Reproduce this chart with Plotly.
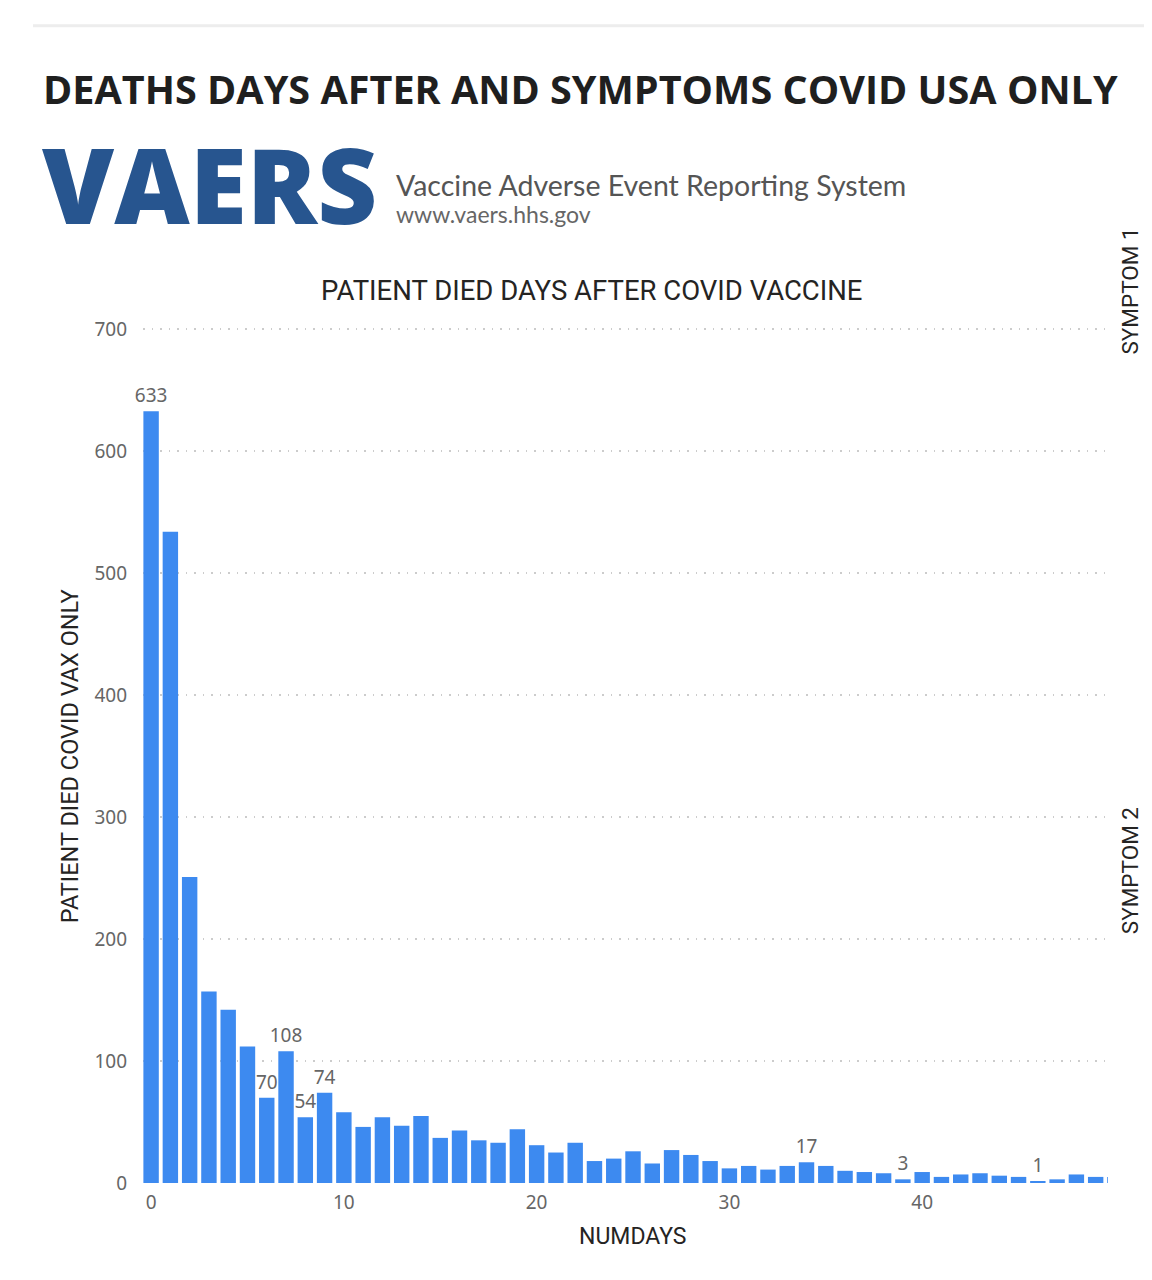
import plotly.graph_objects as go

# ---- data ----
days = list(range(0, 51))
deaths = [633, 534, 251, 157, 142, 112, 70, 108, 54, 74,
          58, 46, 54, 47, 55, 37, 43, 35, 33, 44,
          31, 25, 33, 18, 20, 26, 16, 27, 23, 18,
          12, 14, 11, 14, 17, 14, 10, 9, 8, 3,
          9, 5, 7, 8, 6, 5, 1, 3, 7, 5,
          5]
labelled_days = [0, 6, 7, 8, 9, 34, 39, 46]
y_ticks = [0, 100, 200, 300, 400, 500, 600, 700]
x_ticks = [0, 10, 20, 30, 40]

bar_text = [str(v) if d in labelled_days else "" for d, v in zip(days, deaths)]

OFF = 8  # page body margin
W, H = 1152 - OFF, 1280 - OFF
# plot area in target-page px
L, R, T, B = 143, 1108, 326.5, 1183
YMAX = 702


def px(x):
    return (x - L) / (R - L)


def py(y):
    return (B - y) / (B - T)


fig = go.Figure()
fig.add_trace(go.Bar(
    x=days, y=deaths,
    marker=dict(color="#3D8AF0", line=dict(width=0)),
    text=bar_text, textposition="outside", constraintext="none",
    textfont=dict(family="Noto Sans", size=19, color="#666666"),
    cliponaxis=False, hoverinfo="x+y",
))

fig.update_layout(
    width=W, height=H,
    margin=dict(l=L - OFF, r=W - (R - OFF), t=T - OFF, b=H - (B - OFF), pad=0),
    paper_bgcolor="white", plot_bgcolor="white",
    bargap=0.2, showlegend=False,
    font=dict(family="Noto Sans", color="#666666"),
)
fig.update_xaxes(
    range=[-0.42, 49.64], tickvals=x_ticks, ticks="", showgrid=False,
    zeroline=False, showline=False, ticklabelstandoff=6,
    tickfont=dict(family="Noto Sans", size=19, color="#666666"),
)
fig.update_yaxes(
    range=[0, YMAX], tickvals=y_ticks, ticks="", showgrid=True,
    gridcolor="#CCCCCC", griddash="1.5px,7px", gridwidth=1.5, zeroline=False,
    showline=False, ticklabelstandoff=15,
    tickfont=dict(family="Noto Sans", size=19, color="#666666"),
)

ann = []
ann.append(dict(text="<b>DEATHS DAYS AFTER AND SYMPTOMS COVID USA ONLY</b>",
                x=px(41), y=py(88), xanchor="left", yanchor="middle",
                font=dict(family="Open Sans", size=39.6, color="#1F1F1F")))
ann.append(dict(text="VAERS", x=px(40), y=py(183), xanchor="left", yanchor="middle",
                font=dict(family="Open Sans", size=104, color="#27558F", weight=800)))
ann.append(dict(text="Vaccine Adverse Event Reporting System", x=px(394), y=py(184),
                xanchor="left", yanchor="middle",
                font=dict(family="Lato", size=28.5, color="#555555")))
ann.append(dict(text="www.vaers.hhs.gov", x=px(394), y=py(213),
                xanchor="left", yanchor="middle",
                font=dict(family="Lato", size=23, color="#666666")))
ann.append(dict(text="PATIENT DIED DAYS AFTER COVID VACCINE", x=px(591), y=py(290),
                xanchor="center", yanchor="middle",
                font=dict(family="Roboto", size=27.5, color="#252423")))
ann.append(dict(text="PATIENT DIED COVID VAX ONLY", x=px(70), y=py(756),
                xanchor="center", yanchor="middle", textangle=-90,
                font=dict(family="Roboto", size=23.5, color="#252423")))
ann.append(dict(text="NUMDAYS", x=px(633), y=py(1237),
                xanchor="center", yanchor="middle",
                font=dict(family="Roboto", size=23, color="#252423")))
ann.append(dict(text="SYMPTOM 1", x=px(1130), y=py(291),
                xanchor="center", yanchor="middle", textangle=-90,
                font=dict(family="Roboto", size=22.5, color="#252423")))
ann.append(dict(text="SYMPTOM 2", x=px(1130), y=py(871),
                xanchor="center", yanchor="middle", textangle=-90,
                font=dict(family="Roboto", size=22.5, color="#252423")))
for a in ann:
    a.update(xref="paper", yref="paper", showarrow=False)
fig.update_layout(annotations=ann)

fig.update_layout(shapes=[
    dict(type="line", xref="paper", yref="paper", x0=px(33), x1=px(1152),
         y0=py(25), y1=py(25), line=dict(color="#EDEDED", width=3)),
])

fig.write_html("out.html")
